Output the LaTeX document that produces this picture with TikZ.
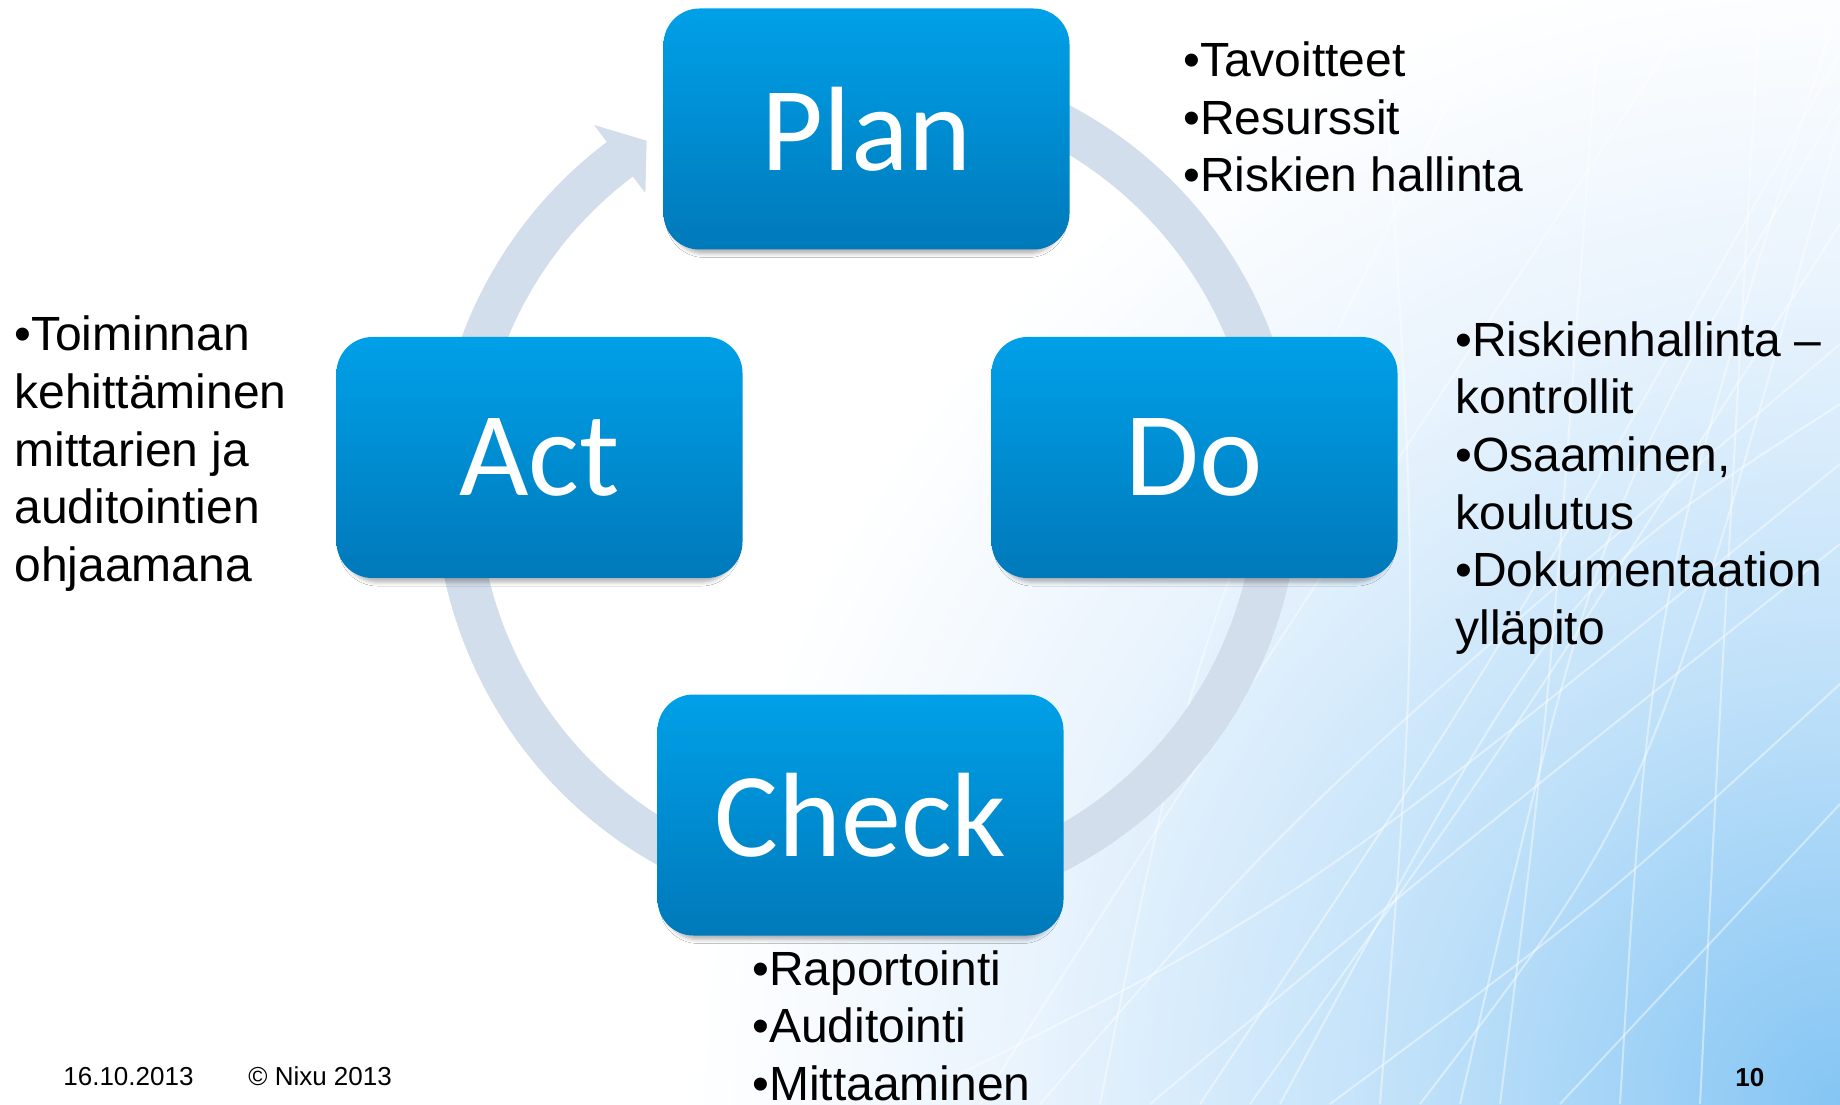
\documentclass[tikz,border=0pt]{standalone}
\usepackage{fontspec}
\setmainfont{Liberation Sans}
\newfontfamily\boxfont{Carlito}
\usepackage{tikz}
\usetikzlibrary{calc,shadows.blur}
\definecolor{boxTop}{RGB}{0,160,232}
\definecolor{boxBot}{RGB}{0,121,186}
\definecolor{ringCol}{HTML}{D3DEEC}
\definecolor{skyA}{RGB}{132,197,244}
\definecolor{skyB}{RGB}{190,224,249}
\definecolor{skyC}{RGB}{234,244,253}
\pgfdeclareradialshading{skyglow}{\pgfpoint{0bp}{0bp}}{%
  color(0bp)=(skyA); color(4.5bp)=(skyB); color(9bp)=(skyC);
  color(12.5bp)=(white); color(50bp)=(white)}
\tikzset{
  stage/.style={rounded corners=18pt, minimum width=203pt, minimum height=120.5pt,
                top color=boxTop, bottom color=boxBot, text=white, inner sep=0pt,
                font=\boxfont\fontsize{60}{72}\selectfont,
                blur shadow={shadow xshift=0pt, shadow yshift=-4pt, shadow scale=0.97,
                             shadow opacity=30, shadow blur radius=2pt}},
  bullets/.style={font=\fontsize{24}{28.75}\selectfont, align=left, inner sep=0pt,
                  anchor=base west}, % base = last line
  foot/.style={font=\fontsize{13}{15}\selectfont, inner sep=0pt, anchor=base west},
  streak/.style={white, opacity=0.45, line width=1pt},
}
% ring with arrow head, centred on (hub)
\newcommand{\cyclepath}{%
  ($(hub)+(72:432)$) arc[start angle=72, end angle=-233, radius=432]
  -- ($(hub)+(127:453)$) -- ($(hub)+(122.5:410.5)$) -- ($(hub)+(127:368.6)$)
  -- ($(hub)+(127:389)$) arc[start angle=-233, end angle=72, radius=389] -- cycle}

\begin{document}
\begin{tikzpicture}[x=0.5pt,y=0.5pt]
  \useasboundingbox (0,0) rectangle (1840,1104);

  % backdrop: white slide, blue glow with light streaks at lower right
  \begin{scope}
    \clip (0,0) rectangle (1840,1104);
    \fill[white] (0,0) rectangle (1840,1104);
    \fill[shading=skyglow] (1840,0) circle[radius=2300];
    \foreach \sx/\cx/\cy/\ex/\ey in {1040/1300/300/1840/760, 1150/1450/250/1840/560,
        1250/1500/350/1840/880, 1330/1600/200/1840/420, 980/1250/420/1700/1104,
        1420/1650/300/1840/980, 1560/1700/150/1840/300, 1100/1200/500/1500/1104,
        1500/1550/400/1600/1104, 1700/1720/400/1760/1104, 1200/1500/450/1840/1050,
        1380/1420/500/1380/1104, 1620/1650/500/1840/1104, 900/1300/200/1840/640,
        1280/1560/520/1840/700, 1460/1600/600/1840/1000}
      \draw[streak] (\sx,0) .. controls (\cx,\cy) .. (\ex,\ey);
  \end{scope}

  \coordinate (hub) at (867,617);
  \fill[black, opacity=0.12, shift={(1,-3)}] \cyclepath;
  \fill[ringCol] \cyclepath;

  \node[stage] (plan)  at (866.5,975)   {Plan};
  \node[stage] (act)   at (539.5,646.5) {Act};
  \node[stage] (do)    at (1194.5,646.5){Do};
  \node[stage] (check) at (860.5,289)   {Check};

  \node[bullets] (planNote)  at (1183,912)  {•Tavoitteet\\•Resurssit\\•Riskien hallinta};
  \node[bullets] (doNote)    at (1455,460)  {•Riskienhallinta –\\kontrollit\\•Osaaminen,\\koulutus\\•Dokumentaation\\ylläpito};
  \node[bullets] (actNote)   at (14,523)    {•Toiminnan\\kehittäminen\\mittarien ja\\auditointien\\ohjaamana};
  \node[bullets] (checkNote) at (752,4)     {•Raportointi\\•Auditointi\\•Mittaaminen};

  \node[foot] (date)   at (63,19)   {16.10.2013};
  \node[foot] (owner)  at (248,19)  {© Nixu 2013};
  \node[foot, font=\fontsize{13}{15}\selectfont\bfseries] (pageNo) at (1735,18) {10};
\end{tikzpicture}
\end{document}
